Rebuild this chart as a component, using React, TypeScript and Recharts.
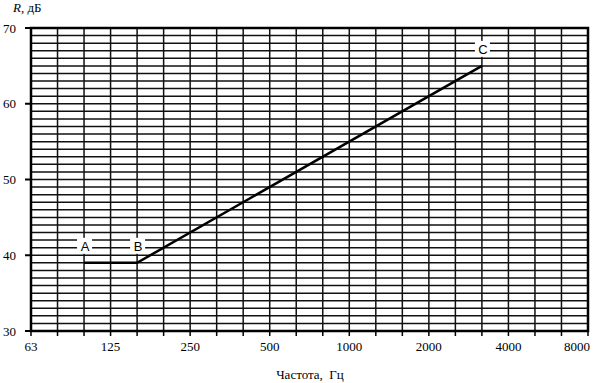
import React from "react";
import {
  LineChart,
  Line,
  XAxis,
  YAxis,
  CartesianGrid,
  ReferenceArea,
  LabelList,
} from "recharts";

// 1/3-octave band centre frequencies (Hz)
const bands = ["63", "80", "100", "125", "160", "200", "250", "315", "400", "500", "630", "800", "1000", "1250", "1600", "2000", "2500", "3150", "4000", "5000", "6300", "8000"];
// bands that carry a tick label
const labeledBands = ["63", "125", "250", "500", "1000", "2000", "4000", "8000"];
// curve: frequency of each point, R (dB), point name
const curveFreqs = ["100", "160", "3150"];
const curveR = [39, 39, 65];
const curveNames = ["A", "B", "C"];
// y axis
const yMin = 30;
const yMax = 70;
const yLabeled = [30, 40, 50, 60, 70];

const yGridTicks: number[] = [];
for (let v = yMin; v <= yMax; v++) yGridTicks.push(v);
const xTicks = bands.map((_, i) => i);

const data = curveFreqs.map((f, i) => ({
  x: bands.indexOf(f),
  R: curveR[i],
  name: curveNames[i],
}));

const serif = "'Liberation Serif', 'Times New Roman', serif";
const sans = "'Liberation Sans', Arial, sans-serif";

const XTick = (props: any) => {
  const { x, y, payload } = props;
  const label = bands[payload.value];
  const show = labeledBands.includes(label);
  return (
    <g>
      <line x1={x} y1={y} x2={x} y2={y + 5} stroke="#000" strokeWidth={1.5} />
      {show && (
        <text
          x={payload.value === bands.length - 1 ? x - 11 : x}
          y={y + 20}
          textAnchor="middle"
          fontFamily={serif}
          fontSize={13}
          fill="#000"
        >
          {label}
        </text>
      )}
    </g>
  );
};

const YTick = (props: any) => {
  const { x, y, payload } = props;
  if (!yLabeled.includes(payload.value)) return <g />;
  return (
    <g>
      <line x1={x - 6} y1={y} x2={x} y2={y} stroke="#000" strokeWidth={2} />
      <text
        x={x - 15}
        y={y + 4.5}
        textAnchor="end"
        fontFamily={serif}
        fontSize={13}
        fill="#000"
      >
        {payload.value}
      </text>
    </g>
  );
};

const PointLabel = (props: any) => {
  const { x, y, value } = props;
  const cy = y - 17;
  return (
    <g>
      <rect x={x - 7} y={cy - 8} width={15} height={16} fill="#fff" />
      <text
        x={x + 1}
        y={cy + 5}
        textAnchor="middle"
        fontFamily={sans}
        fontSize={13}
        fill="#000"
      >
        {value}
      </text>
    </g>
  );
};

export default function App() {
  return (
    <div style={{ position: "absolute", left: 0, top: 0, width: 600, height: 383, background: "#fff" }}>
      <LineChart
        width={600}
        height={383}
        data={data}
        margin={{ top: 28, right: 12, bottom: 0, left: 0 }}
      >
        <CartesianGrid
          stroke="#111"
          strokeWidth={1.5}
          horizontalValues={yGridTicks}
          verticalValues={xTicks}
        />
        <XAxis
          dataKey="x"
          type="number"
          domain={[0, bands.length - 1]}
          ticks={xTicks}
          interval={0}
          tick={<XTick />}
          tickLine={false}
          tickSize={0}
          tickMargin={0}
          axisLine={false}
          height={52}
        />
        <YAxis
          type="number"
          domain={[yMin, yMax]}
          ticks={yGridTicks}
          interval={0}
          tick={<YTick />}
          tickLine={false}
          tickSize={0}
          tickMargin={0}
          axisLine={false}
          width={31}
        />
        <ReferenceArea
          x1={0}
          x2={bands.length - 1}
          y1={yMin}
          y2={yMax}
          fill="none"
          fillOpacity={0}
          stroke="#000"
          strokeWidth={2.5}
          ifOverflow="visible"
        />
        <Line
          dataKey="R"
          stroke="#000"
          strokeWidth={2.5}
          dot={false}
          isAnimationActive={false}
        >
          <LabelList dataKey="name" content={<PointLabel />} />
        </Line>
      </LineChart>
      <div
        style={{
          position: "absolute",
          left: 13,
          top: 0,
          fontFamily: serif,
          fontSize: 13,
          lineHeight: "16px",
          color: "#000",
          whiteSpace: "nowrap",
        }}
      >
        <i>R</i>, дБ
      </div>
      <div
        style={{
          position: "absolute",
          left: 0,
          width: 620,
          top: 367,
          textAlign: "center",
          fontFamily: serif,
          fontSize: 13,
          lineHeight: "16px",
          color: "#000",
          whiteSpace: "nowrap",
        }}
      >
        Частота,&nbsp; Гц
      </div>
    </div>
  );
}
